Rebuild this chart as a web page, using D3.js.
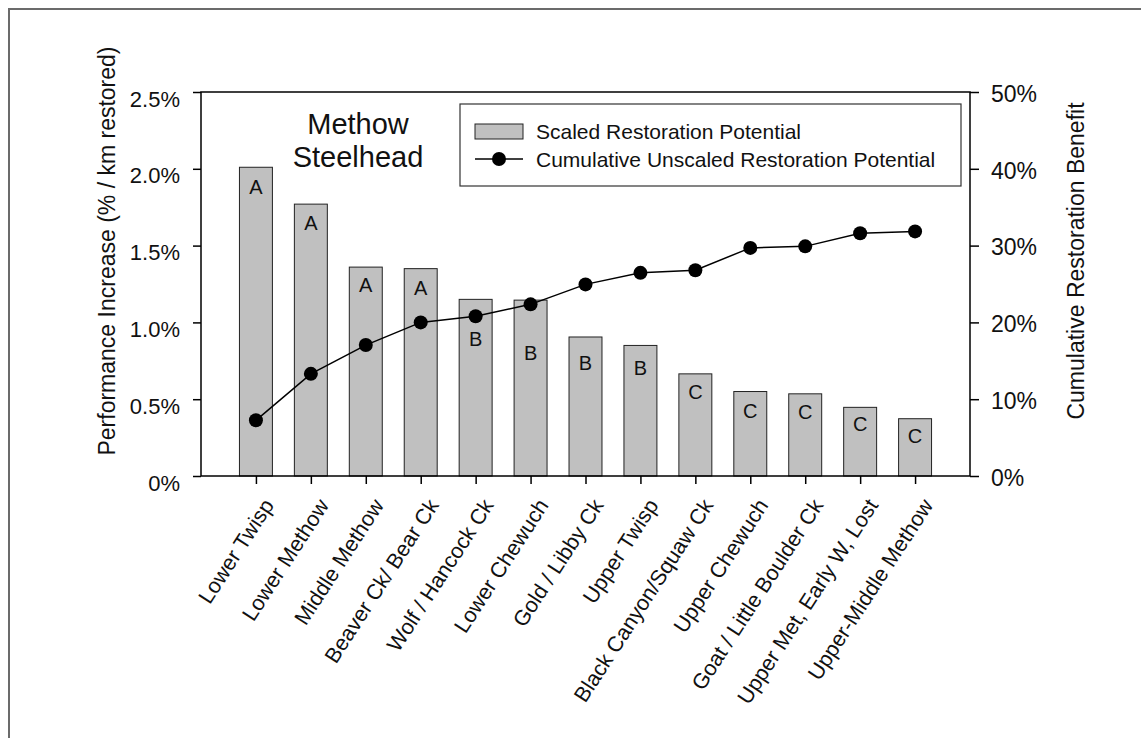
<!DOCTYPE html>
<html>
<head>
<meta charset="utf-8">
<script src="https://cdn.jsdelivr.net/npm/d3@7"></script>
<style>
  html, body { margin: 0; padding: 0; background: #fff; }
  svg { display: block; font-family: "Liberation Sans", Arial, sans-serif; }
</style>
</head>
<body>
<svg id="chart" width="1141" height="738"></svg>
<script>
// ---- data ----
const categories = ["Lower Twisp", "Lower Methow", "Middle Methow", "Beaver Ck/ Bear Ck",
  "Wolf / Hancock Ck", "Lower Chewuch", "Gold / Libby Ck", "Upper Twisp",
  "Black Canyon/Squaw Ck", "Upper Chewuch", "Goat / Little Boulder Ck",
  "Upper Met, Early W, Lost", "Upper-Middle Methow"];
const scaledPotential = [2.01, 1.77, 1.36, 1.35, 1.15, 1.145, 0.905, 0.85, 0.665, 0.55, 0.535, 0.447, 0.373];
const cumulativeBenefit = [7.25, 13.3, 17.05, 20.0, 20.8, 22.35, 24.95, 26.45, 26.8, 29.7, 29.9, 31.6, 31.85];
const grades = ["A", "A", "A", "A", "B", "B", "B", "B", "C", "C", "C", "C", "C"];
const gradeLabelLevel = [1.883, 1.649, 1.243, 1.228, 0.892, 0.799, 0.738, 0.703, 0.547, 0.423, 0.415, 0.337, 0.262];
const leftTicks = [0, 0.5, 1.0, 1.5, 2.0, 2.5];
const rightTicks = [0, 10, 20, 30, 40, 50];

// ---- layout ----
const svg = d3.select("#chart");
const L = 201, R = 970, T = 92, B = 476;

// outer frame (top & left edges visible)
svg.append("path").attr("d", "M9,738 V9 H1141")
  .attr("fill", "none").attr("stroke", "#6b6b6b").attr("stroke-width", 2);

const x = d3.scalePoint().domain(categories).range([L, R]).padding(1);
const yL = d3.scaleLinear().domain([0, 2.5]).range([B, T]);
const yR = d3.scaleLinear().domain([0, 50]).range([B, T]);
const barW = x.step() * 0.6;

// bars
svg.append("g").selectAll("rect").data(categories).join("rect")
  .attr("x", d => x(d) - barW / 2)
  .attr("y", (d, i) => yL(scaledPotential[i]))
  .attr("width", barW)
  .attr("height", (d, i) => B - yL(scaledPotential[i]))
  .attr("fill", "#c0c0c0").attr("stroke", "#222").attr("stroke-width", 1);

// grade letters
svg.append("g").selectAll("text").data(categories).join("text")
  .attr("x", d => x(d))
  .attr("y", (d, i) => yL(gradeLabelLevel[i]))
  .attr("dy", "0.36em")
  .attr("text-anchor", "middle")
  .attr("font-size", 20)
  .attr("fill", "#111")
  .text((d, i) => grades[i]);

// line
const line = d3.line().x((d, i) => x(categories[i])).y(d => yR(d));
svg.append("path").datum(cumulativeBenefit).attr("d", line)
  .attr("fill", "none").attr("stroke", "#000").attr("stroke-width", 1.5);
svg.append("g").selectAll("circle").data(cumulativeBenefit).join("circle")
  .attr("cx", (d, i) => x(categories[i])).attr("cy", d => yR(d))
  .attr("r", 7).attr("fill", "#000");

// plot frame
svg.append("rect").attr("x", L).attr("y", T).attr("width", R - L).attr("height", B - T)
  .attr("fill", "none").attr("stroke", "#000").attr("stroke-width", 1.5);

// axes
const fmtL = d => d === 0 ? "0%" : d3.format(".1f")(d) + "%";
const axL = svg.append("g").attr("transform", `translate(${L},0)`)
  .call(d3.axisLeft(yL).tickValues(leftTicks).tickFormat(fmtL).tickSize(8).tickPadding(13));
axL.selectAll("text").attr("dy", "0.32em").attr("transform", "translate(0,7)");
const axR = svg.append("g").attr("transform", `translate(${R},0)`)
  .call(d3.axisRight(yR).tickValues(rightTicks).tickFormat(d => d + "%").tickSize(9).tickPadding(12));
axR.selectAll("text").attr("transform", "translate(0,2)");
const axB = svg.append("g").attr("transform", `translate(0,${B})`)
  .call(d3.axisBottom(x).tickSize(8).tickFormat(""));
[axL, axR, axB].forEach(a => {
  a.select(".domain").remove();
  a.selectAll("line").attr("stroke", "#000").attr("stroke-width", 1.5);
  a.selectAll("text").attr("font-size", 22).attr("fill", "#111")
    .attr("font-family", "Liberation Sans, Arial, sans-serif");
});
axR.selectAll("text").attr("font-size", 23);

// x category labels
svg.append("g").selectAll("text").data(categories).join("text")
  .attr("transform", d => `translate(${x(d) + 6},497) rotate(-57)`)
  .attr("dy", "0.71em")
  .attr("text-anchor", "end")
  .attr("font-size", 21.5)
  .attr("fill", "#111")
  .text(d => d);

// axis titles
svg.append("text").attr("transform", "translate(115,251) rotate(-90)")
  .attr("text-anchor", "middle").attr("font-size", 23).attr("fill", "#111")
  .text("Performance Increase (% / km restored)");
svg.append("text").attr("transform", "translate(1084,261) rotate(-90)")
  .attr("text-anchor", "middle").attr("font-size", 23).attr("fill", "#111")
  .text("Cumulative Restoration Benefit");

// in-plot title
svg.append("text").attr("x", 358).attr("y", 134).attr("text-anchor", "middle")
  .attr("font-size", 29).attr("fill", "#111").text("Methow");
svg.append("text").attr("x", 358).attr("y", 167).attr("text-anchor", "middle")
  .attr("font-size", 29).attr("fill", "#111").text("Steelhead");

// legend
const lg = svg.append("g");
lg.append("rect").attr("x", 460).attr("y", 104).attr("width", 501).attr("height", 82)
  .attr("fill", "#fff").attr("stroke", "#333").attr("stroke-width", 1.2);
lg.append("rect").attr("x", 475).attr("y", 124).attr("width", 48).attr("height", 15)
  .attr("fill", "#c0c0c0").attr("stroke", "#222").attr("stroke-width", 1);
lg.append("line").attr("x1", 475).attr("x2", 523).attr("y1", 159).attr("y2", 159)
  .attr("stroke", "#000").attr("stroke-width", 1.5);
lg.append("circle").attr("cx", 499).attr("cy", 159).attr("r", 7).attr("fill", "#000");
lg.append("text").attr("x", 536).attr("y", 139).attr("font-size", 21).attr("fill", "#111")
  .text("Scaled Restoration Potential");
lg.append("text").attr("x", 536).attr("y", 166.5).attr("font-size", 21).attr("fill", "#111")
  .text("Cumulative Unscaled Restoration Potential");
</script>
</body>
</html>
